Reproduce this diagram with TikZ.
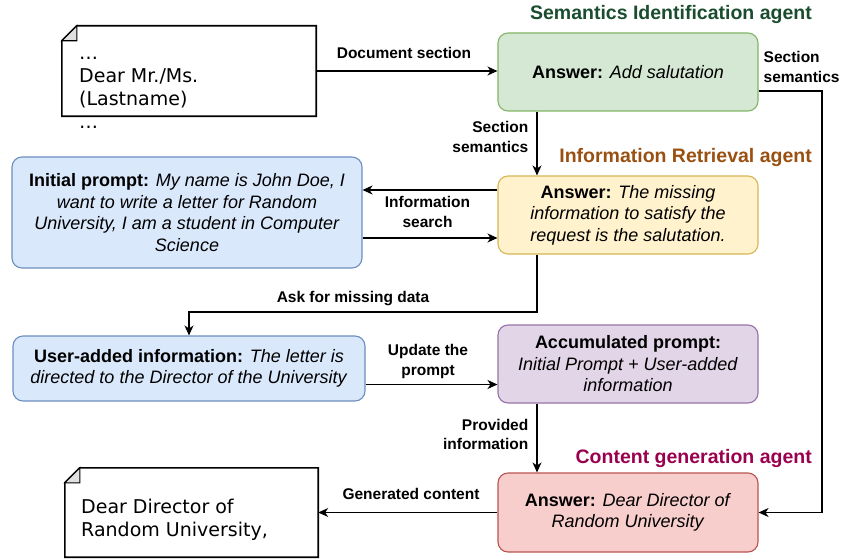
\documentclass[tikz,border=0pt]{standalone}
\usepackage{fontspec}
\setmainfont{Liberation Sans}
\newfontfamily\docfont{DejaVu Sans}
\usepackage{xcolor}
\usepackage{tikz}
\usetikzlibrary{arrows.meta}

\definecolor{semfill}{HTML}{D5E8D4}
\definecolor{semline}{HTML}{82B366}
\definecolor{retfill}{HTML}{FFF2CC}
\definecolor{retline}{HTML}{D6B656}
\definecolor{userfill}{HTML}{DAE8FC}
\definecolor{userline}{HTML}{6C8EBF}
\definecolor{accfill}{HTML}{E1D5E7}
\definecolor{accline}{HTML}{9673A6}
\definecolor{genfill}{HTML}{F8CECC}
\definecolor{genline}{HTML}{B85450}
\definecolor{semtext}{HTML}{1A4D2E}
\definecolor{rettext}{HTML}{995010}
\definecolor{gentext}{HTML}{99004D}

\begin{document}
\begin{tikzpicture}[x=1pt,y=-1pt,
	agent/.style={draw, rounded corners=10pt, line width=1.1pt, align=center, inner sep=0pt,
		minimum width=260pt, minimum height=78pt, font=\fontsize{18}{21.5}\selectfont},
	lbl/.style={inner sep=0pt, align=center, font=\fontsize{15.5}{19.5}\selectfont\bfseries},
	agenttitle/.style={inner sep=0pt, anchor=east, font=\fontsize{19.5}{23}\selectfont\bfseries},
	notebox/.style={inner sep=0pt},
	notetext/.style={inner sep=0pt, anchor=west, align=left, font=\docfont\fontsize{19}{23}\selectfont},
	arr/.style={line width=1.1pt, -{Stealth[length=10pt,width=9pt,inset=3pt]}}]

	\useasboundingbox (0,0) rectangle (842,559);

	\coordinate (lane) at (537,0);
	\coordinate (rail) at (822,0);

	% documents
	\node[notebox, minimum width=254pt, minimum height=90pt] (draft) at (189,71) {};
	\node[notebox, minimum width=253pt, minimum height=89pt] (final) at (191.5,512.5) {};
	\node[notetext] (drafttext) at (79,89) {\strut…\\\strut Dear Mr./Ms.\\\strut (Lastname)\\\strut…};
	\node[notetext] (finaltext) at (81,520) {\strut Dear Director of\\\strut Random University,};

	\foreach \d in {draft,final} {
	  \draw[line width=1.6pt] ([yshift=-15pt]\d.north west) -- ([xshift=15pt]\d.north west)
	    -- (\d.north east) -- (\d.south east) -- (\d.south west) -- cycle;
	  \draw[line width=1.1pt, fill=black!12] ([yshift=-15pt]\d.north west) -- ([xshift=15pt]\d.north west)
	    -- ([xshift=15pt,yshift=-15pt]\d.north west) -- cycle;
	}

	% agents
	\node[agent, fill=semfill, draw=semline] (sem) at (628,72) {\textbf{Answer:} \textit{Add salutation}};
	\node[agent, fill=retfill, draw=retline] (ret) at (628,215)
	  {\textbf{Answer:} \textit{The missing}\\\textit{information to satisfy the}\\\textit{request is the salutation.}};
	\node[agent, fill=accfill, draw=accline] (acc) at (628,364)
	  {\textbf{Accumulated prompt:}\\\textit{Initial Prompt + User-added}\\\textit{information}};
	\node[agent, fill=genfill, draw=genline, minimum height=79pt] (gen) at (628,512.5)
	  {\textbf{Answer:} \textit{Dear Director of}\\\textit{Random University}};

	% prompts
	\node[agent, fill=userfill, draw=userline, minimum width=350pt, minimum height=111pt] (init) at (187,212.5)
	  {\textbf{Initial prompt:} \textit{My name is John Doe, I}\\\textit{want to write a letter for Random}\\
	   \textit{University, I am a student in Computer}\\\textit{Science}};
	\node[agent, fill=userfill, draw=userline, minimum width=352pt, minimum height=65pt] (user) at (189,368.5)
	  {\textbf{User-added information:} \textit{The letter is}\\\textit{directed to the Director of the University}};

	% titles
	\node[agenttitle, text=semtext] (semtitle) at (812,15) {Semantics Identification agent};
	\node[agenttitle, text=rettext] (rettitle) at (812,158) {Information Retrieval agent};
	\node[agenttitle, text=gentext] (gentitle) at (812,458) {Content generation agent};

	% arrows
	\coordinate (q1) at ([yshift=25pt]ret.west);
	\coordinate (q2) at ([yshift=-23pt]ret.west);
	\coordinate (q3) at ([yshift=-16pt]user.east);
	\coordinate (q4) at ([yshift=-19pt]sem.east);
	\coordinate (bend) at (189,312);

	\draw[arr] (draft.east) -- (draft.east -| sem.west);
	\draw[arr] (sem.south -| lane) -- (ret.north -| lane);
	\draw[arr] (q1) -- (q1 -| init.east);
	\draw[arr] (q2 -| init.east) -- (q2);
	\draw[arr] (ret.south -| lane) |- (bend) -- (user.north);
	\draw[arr] (q3) -- (q3 -| acc.west);
	\draw[arr] (acc.south -| lane) -- (gen.north -| lane);
	\draw[arr] (q4) -| (rail |- gen.east) -- (gen.east);
	\draw[arr] (gen.west) -- (gen.west -| final.east);

	% labels
	\node[lbl] (ldoc) at (404,52.5) {Document section};
	\node[lbl, anchor=east, align=right] (lsec) at (528.5,137) {Section\\semantics};
	\node[lbl, anchor=west, align=left] (lsec2) at (763.5,67) {Section\\semantics};
	\node[lbl] (lsearch) at (427.5,212) {Information\\search};
	\node[lbl] (lask) at (353,299) {Ask for missing data};
	\node[lbl] (lupd) at (428,361.5) {Update the\\prompt};
	\node[lbl, anchor=east, align=right] (lprov) at (528.5,434.5) {Provided\\information};
	\node[lbl] (lgen) at (411,494) {Generated content};
\end{tikzpicture}
\end{document}
